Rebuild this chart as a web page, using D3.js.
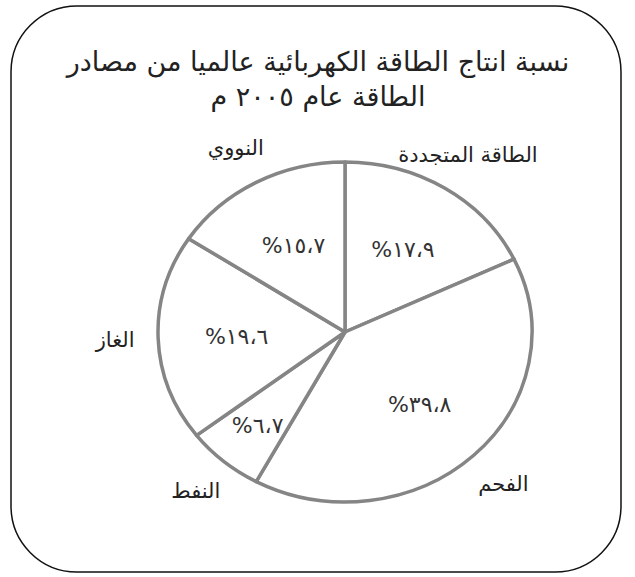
<!DOCTYPE html>
<html>
<head>
<meta charset="utf-8">
<script src="https://cdn.jsdelivr.net/npm/d3@7"></script>
<style>
  body { margin: 0; background: #fff; }
  text { font-family: "DejaVu Sans", sans-serif; fill: #222; }
</style>
</head>
<body>
<div id="chart"></div>
<script>
// data
const categories = ["الطاقة المتجددة", "الفحم", "النفط", "الغاز", "النووي"];
const shares = [17.9, 39.8, 6.7, 19.6, 15.7];
const titleLines = ["نسبة انتاج الطاقة الكهربائية عالميا من مصادر", "الطاقة عام ٢٠٠٥ م"];

// dim
const width = 635, height = 577;
const cx = 345, cy = 332, R = 170, sx = 1.1;

const svg = d3.select("#chart")
  .append("svg")
    .attr("width", width)
    .attr("height", height);

// frame
svg.append("rect")
  .attr("x", 11).attr("y", 6)
  .attr("width", 610).attr("height", 566)
  .attr("rx", 66).attr("ry", 66)
  .attr("fill", "none")
  .attr("stroke", "#111")
  .attr("stroke-width", 1.5);

// title
svg.selectAll(".title")
  .data(titleLines)
  .join("text")
    .attr("class", "title")
    .attr("x", 318)
    .attr("y", (d, i) => 71 + i * 35)
    .attr("text-anchor", "middle")
    .attr("direction", "rtl")
    .style("font-size", "27px")
    .text(d => d);

// arabic digits
const toArabic = v => String(v).replace(/\d/g, c => "٠١٢٣٤٥٦٧٨٩"[c]).replace(".", "،");

const pie = d3.pie().sort(null).value(d => d);
const arcs = pie(shares);

const arc = d3.arc().innerRadius(0).outerRadius(R);

const g = svg.append("g")
  .attr("transform", `translate(${cx},${cy}) scale(${sx},1)`);

g.selectAll("path")
  .data(arcs)
  .join("path")
    .attr("d", arc)
    .attr("fill", "#fff")
    .attr("stroke", "#858585")
    .attr("stroke-width", 3.5)
    .attr("stroke-linejoin", "round")
    .attr("vector-effect", "non-scaling-stroke");

// position along the mid angle, ellipse-stretched
const pos = (d, k) => {
  const a = (d.startAngle + d.endAngle) / 2;
  return [cx + Math.sin(a) * R * k * sx, cy - Math.cos(a) * R * k];
};

// value labels inside
const inner = d => d.value < 10 ? 0.72 : 0.58;
svg.selectAll(".val")
  .data(arcs)
  .join("text")
    .attr("class", "val")
    .attr("x", d => pos(d, inner(d))[0])
    .attr("y", d => pos(d, inner(d))[1] + 8)
    .attr("text-anchor", "middle")
    .style("font-size", "22px")
    .style("letter-spacing", "3px")
    .style("fill", "#333")
    .text(d => "%" + toArabic(d.value));

// category names outside
svg.selectAll(".cat")
  .data(arcs)
  .join("text")
    .attr("class", "cat")
    .attr("x", d => pos(d, 1.23)[0])
    .attr("y", d => pos(d, 1.23)[1] + 7)
    .attr("text-anchor", "middle")
    .attr("direction", "rtl")
    .style("font-size", "21px")
    .text((d, i) => categories[i]);
</script>
</body>
</html>
